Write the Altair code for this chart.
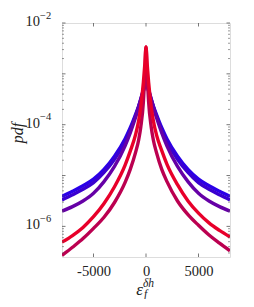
import altair as alt
import pandas as pd

# ---- data ----
x_vals = [-8000, -7000, -6000, -5000, -4000, -3000, -2000, -1500, -1000, -700, -500, -250, -100, 0,
          100, 250, 500, 700, 1000, 1500, 2000, 3000, 4000, 5000, 6000, 7000, 8000]

blue1 = [3.89e-6, 4.90e-6, 6.31e-6, 8.51e-6, 1.32e-5, 2.40e-5, 5.25e-5, 8.71e-5, 1.585e-4, 2.34e-4, 3.16e-4, 4.68e-4, 6.03e-4, 7.08e-4,
         6.03e-4, 4.68e-4, 3.16e-4, 2.34e-4, 1.585e-4, 8.71e-5, 5.25e-5, 2.40e-5, 1.32e-5, 8.51e-6, 6.31e-6, 4.90e-6, 3.89e-6]
blue2 = [3.31e-6, 4.17e-6, 5.37e-6, 7.24e-6, 1.15e-5, 2.09e-5, 4.68e-5, 7.94e-5, 1.48e-4, 2.24e-4, 3.02e-4, 4.57e-4, 6.03e-4, 7.08e-4,
         6.03e-4, 4.57e-4, 3.02e-4, 2.24e-4, 1.48e-4, 7.94e-5, 4.68e-5, 2.09e-5, 1.15e-5, 7.24e-6, 5.37e-6, 4.17e-6, 3.31e-6]
purple = [2.0e-6, 2.45e-6, 3.16e-6, 4.47e-6, 7.59e-6, 1.51e-5, 3.80e-5, 6.92e-5, 1.38e-4, 2.24e-4, 3.16e-4, 5.01e-4, 6.61e-4, 7.94e-4,
          6.61e-4, 5.01e-4, 3.16e-4, 2.24e-4, 1.38e-4, 6.92e-5, 3.80e-5, 1.51e-5, 7.59e-6, 4.47e-6, 3.16e-6, 2.45e-6, 2.0e-6]
crimson = [2.69e-7, 3.89e-7, 5.75e-7, 9.12e-7, 1.51e-6, 2.95e-6, 7.24e-6, 1.32e-5, 2.82e-5, 5.01e-5, 8.91e-5, 2.82e-4, 1.12e-3, 3.39e-3,
           1.12e-3, 2.82e-4, 8.91e-5, 5.01e-5, 2.82e-5, 1.32e-5, 7.59e-6, 3.16e-6, 1.70e-6, 1.05e-6, 6.76e-7, 4.68e-7, 3.31e-7]
red = [4.90e-7, 6.61e-7, 9.55e-7, 1.55e-6, 2.82e-6, 6.03e-6, 1.585e-5, 3.02e-5, 6.31e-5, 1.20e-4, 2.24e-4, 6.76e-4, 1.66e-3, 3.39e-3,
       1.66e-3, 6.76e-4, 2.24e-4, 1.20e-4, 6.31e-5, 3.09e-5, 1.66e-5, 6.61e-6, 3.16e-6, 1.82e-6, 1.17e-6, 8.32e-7, 6.17e-7]

series_vals = [blue1, blue2, purple, crimson, red]
series_colors = ["#2a00e8", "#3a00d0", "#6600a6", "#bb0050", "#e8002a"]

x_ticks = [-5000, 0, 5000]
y_major = [1e-2, 1e-4, 1e-6]
y_sup = ["\u22122", "\u22124", "\u22126"]
y_decades = [1e-2, 1e-3, 1e-4, 1e-5, 1e-6]
y_minor = [m * d for d in [1e-7, 1e-6, 1e-5, 1e-4, 1e-3] for m in range(2, 10) if m * d >= 2.5e-7]

W, H = 168, 234
FONT = "Liberation Serif, DejaVu Serif, serif"
TXT = "#222"

xscale = alt.Scale(domain=[-8000, 8000], nice=False, zero=False)
yscale = alt.Scale(type="log", domain=[2.5e-7, 1e-2], nice=False)

x_axis = alt.Axis(values=x_ticks, tickSize=0, domain=False, grid=False, title=None, format="d",
                  labelFont=FONT, labelFontSize=14.5, labelColor=TXT, labelPadding=7,
                  labelExpr="replace(datum.label, '\u2212', '-')")
x_enc = alt.X("x:Q", scale=xscale, axis=x_axis)
y_enc = alt.Y("p:Q", scale=yscale, axis=None)

layers = []
for vals, col in zip(series_vals, series_colors):
    d = pd.DataFrame({"x": x_vals, "p": vals})
    layers.append(
        alt.Chart(d).mark_line(color=col, strokeWidth=3.4, interpolate="monotone", clip=True)
        .encode(x=x_enc, y=y_enc)
    )

# inward ticks drawn through the scales
yt_major = pd.DataFrame({"p": y_decades})
yt_minor = pd.DataFrame({"p": y_minor})
xt = pd.DataFrame({"x": x_ticks})
tick_col = "#555"
tick_layers = [
    alt.Chart(yt_major).mark_rule(color=tick_col, strokeWidth=0.8).encode(y=y_enc, x=alt.value(0), x2=alt.value(3.5)),
    alt.Chart(yt_major).mark_rule(color=tick_col, strokeWidth=0.8).encode(y=y_enc, x=alt.value(W - 3.5), x2=alt.value(W)),
    alt.Chart(yt_minor).mark_rule(color=tick_col, strokeWidth=0.6).encode(y=y_enc, x=alt.value(0), x2=alt.value(2)),
    alt.Chart(yt_minor).mark_rule(color=tick_col, strokeWidth=0.6).encode(y=y_enc, x=alt.value(W - 2), x2=alt.value(W)),
    alt.Chart(xt).mark_rule(color=tick_col, strokeWidth=0.8).encode(x=x_enc, y=alt.value(H - 3.5), y2=alt.value(H)),
    alt.Chart(xt).mark_rule(color=tick_col, strokeWidth=0.8).encode(x=x_enc, y=alt.value(0), y2=alt.value(3.5)),
]

# y tick labels 10^{-n}
ylab = pd.DataFrame({"p": y_major, "base": ["10"] * 3, "sup": y_sup})
ylabel_layers = [
    alt.Chart(ylab).mark_text(font=FONT, fontSize=14.5, color=TXT, align="right", baseline="middle", dy=-1)
    .encode(y=y_enc, x=alt.value(-22), text="base:N"),
    alt.Chart(ylab).mark_text(font=FONT, fontSize=10.5, color=TXT, align="left", baseline="middle", dy=-7.5)
    .encode(y=y_enc, x=alt.value(-22), text="sup:N"),
]

# axis titles
title_df = pd.DataFrame({"t": ["pdf"]})
eps_df = pd.DataFrame({"t": ["\u03b5"]})
sup_df = pd.DataFrame({"t": ["\u03b4h"]})
sub_df = pd.DataFrame({"t": ["f"]})
title_layers = [
    alt.Chart(title_df).mark_text(font=FONT, fontSize=16, fontStyle="italic", color=TXT, angle=270,
                                  align="center", baseline="middle")
    .encode(x=alt.value(-44), y=alt.value(H / 2 - 7), text="t:N"),
    alt.Chart(eps_df).mark_text(font=FONT, fontSize=17, fontStyle="italic", color=TXT, align="right",
                                baseline="middle")
    .encode(x=alt.value(81), y=alt.value(H + 33), text="t:N"),
    alt.Chart(sup_df).mark_text(font=FONT, fontSize=11.5, fontStyle="italic", color=TXT, align="left",
                                baseline="middle")
    .encode(x=alt.value(81), y=alt.value(H + 27), text="t:N"),
    alt.Chart(sub_df).mark_text(font=FONT, fontSize=11.5, fontStyle="italic", color=TXT, align="left",
                                baseline="middle")
    .encode(x=alt.value(82), y=alt.value(H + 38), text="t:N"),
]

chart = alt.layer(*layers, *tick_layers, *ylabel_layers, *title_layers).properties(
    width=W, height=H,
    autosize=alt.AutoSizeParams(type="none"),
    padding={"left": 54, "top": 15, "right": 16, "bottom": 42},
).configure_view(stroke="#666", strokeWidth=1).configure(background="white")

chart.save("out.html", embed_options={"renderer": "svg", "actions": False})
